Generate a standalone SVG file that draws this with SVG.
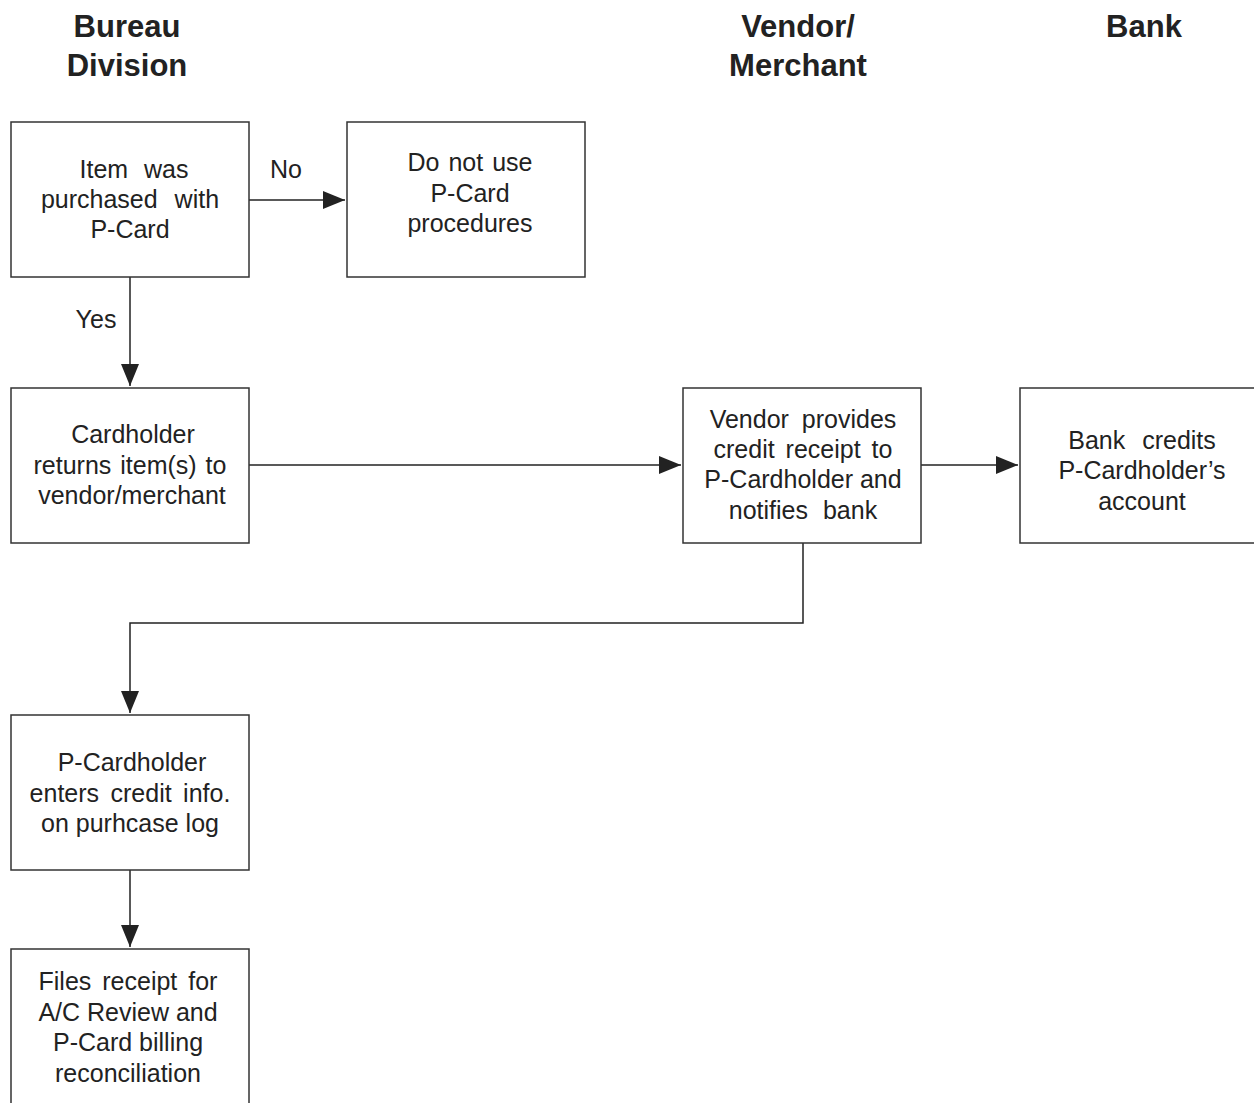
<svg xmlns="http://www.w3.org/2000/svg" width="1254" height="1103" viewBox="0 0 1254 1103">
<style>
.box{fill:#fff;stroke:#333;stroke-width:1.5}
.t{font-family:"Liberation Sans",Arial,sans-serif;font-size:25px;fill:#222;text-anchor:middle}
.h{font-family:"Liberation Sans",Arial,sans-serif;font-size:31px;font-weight:bold;fill:#222;text-anchor:middle}
.c{fill:none;stroke:#222;stroke-width:1.5}
</style>
<defs>
<marker id="ah" markerWidth="24" markerHeight="18" refX="22" refY="9" orient="auto" markerUnits="userSpaceOnUse">
<path d="M0,0 L22,9 L0,18 Z" fill="#222"/>
</marker>
</defs>
<rect width="1254" height="1103" fill="#fff"/>
<g id="headers">
<text class="h" x="127" y="37">Bureau</text>
<text class="h" x="127" y="76">Division</text>
<text class="h" x="798" y="37">Vendor/</text>
<text class="h" x="798" y="76">Merchant</text>
<text class="h" x="1144" y="37">Bank</text>
</g>
<g id="connectors">
<path class="c" d="M249,200 H345" marker-end="url(#ah)"/>
<path class="c" d="M130,277 V386" marker-end="url(#ah)"/>
<path class="c" d="M249,465 H681" marker-end="url(#ah)"/>
<path class="c" d="M921,465 H1018" marker-end="url(#ah)"/>
<path class="c" d="M803,543 V623 H130 V713" marker-end="url(#ah)"/>
<path class="c" d="M130,870 V947" marker-end="url(#ah)"/>
<text class="t" x="286" y="178">No</text>
<text class="t" x="96" y="328">Yes</text>
</g>
<g id="n1">
<rect class="box" x="11" y="122" width="238" height="155"/>
<text class="t" x="134" y="178" word-spacing="9">Item was</text>
<text class="t" x="130" y="208" word-spacing="10">purchased with</text>
<text class="t" x="130" y="238">P-Card</text>
</g>
<g id="n2">
<rect class="box" x="347" y="122" width="238" height="155"/>
<text class="t" x="470" y="171" word-spacing="2">Do not use</text>
<text class="t" x="470" y="202">P-Card</text>
<text class="t" x="470" y="232">procedures</text>
</g>
<g id="n3">
<rect class="box" x="11" y="388" width="238" height="155"/>
<text class="t" x="133" y="443">Cardholder</text>
<text class="t" x="130" y="474" word-spacing="2">returns item(s) to</text>
<text class="t" x="132" y="504">vendor/merchant</text>
</g>
<g id="n4">
<rect class="box" x="683" y="388" width="238" height="155"/>
<text class="t" x="803" y="428" word-spacing="6">Vendor provides</text>
<text class="t" x="803" y="458" word-spacing="4">credit receipt to</text>
<text class="t" x="803" y="488">P-Cardholder and</text>
<text class="t" x="803" y="519" word-spacing="8">notifies bank</text>
</g>
<g id="n5">
<rect class="box" x="1020" y="388" width="250" height="155"/>
<text class="t" x="1142" y="449" word-spacing="10">Bank credits</text>
<text class="t" x="1142" y="479">P-Cardholder’s</text>
<text class="t" x="1142" y="510">account</text>
</g>
<g id="n6">
<rect class="box" x="11" y="715" width="238" height="155"/>
<text class="t" x="132" y="771">P-Cardholder</text>
<text class="t" x="130" y="802" word-spacing="4.5">enters credit info.</text>
<text class="t" x="130" y="832">on purhcase log</text>
</g>
<g id="n7">
<rect class="box" x="11" y="949" width="238" height="170"/>
<text class="t" x="128" y="990" word-spacing="4">Files receipt for</text>
<text class="t" x="128" y="1021">A/C Review and</text>
<text class="t" x="128" y="1051">P-Card billing</text>
<text class="t" x="128" y="1082">reconciliation</text>
</g>
</svg>
